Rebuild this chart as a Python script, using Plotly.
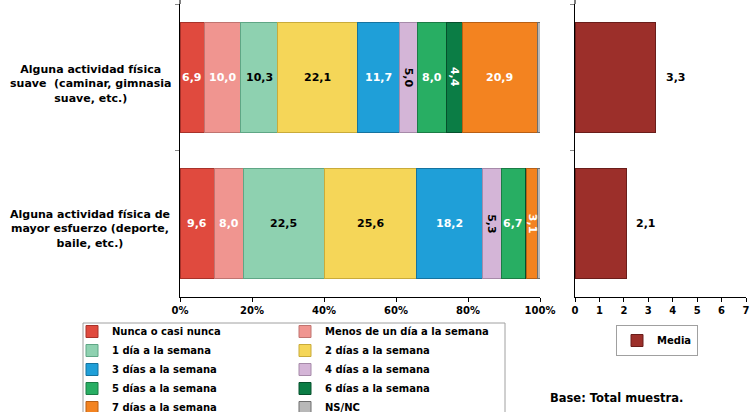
import plotly.graph_objects as go

W, H = 751, 412

# Activities (rows, top to bottom)
activities = ["suave", "esfuerzo"]
activity_labels = [
    "Alguna actividad física<br>suave  (caminar, gimnasia<br>suave, etc.)",
    "Alguna actividad física de<br>mayor esfuerzo (deporte,<br>baile, etc.)",
]

# Frequency categories (stack order, left to right)
frequencies = [
    "Nunca o casi nunca",
    "Menos de un día a la semana",
    "1 día a la semana",
    "2 días a la semana",
    "3 días a la semana",
    "4 días a la semana",
    "5 días a la semana",
    "6 días a la semana",
    "7 días a la semana",
    "NS/NC",
]

# Percentages for each activity, in the order of `frequencies`
pct_suave = [6.9, 10.0, 10.3, 22.1, 11.7, 5.0, 8.0, 4.4, 20.9, 0.7]
pct_esfuerzo = [9.6, 8.0, 22.5, 25.6, 18.2, 5.3, 6.7, 0.3, 3.1, 0.7]

# Mean number of days per week
media = [3.3, 2.1]

# x tick labels
pct_ticks = [0, 20, 40, 60, 80, 100]
media_ticks = [0, 1, 2, 3, 4, 5, 6, 7]

fills = ["#E04A3E", "#F09590", "#8ED1B0", "#F5D658", "#1F9FD8",
         "#D4B5D7", "#28AE63", "#0B7D45", "#F38320", "#B8B8B8"]
edges = ["#A8322A", "#C07470", "#5FA685", "#C9AB3A", "#15739F",
         "#A68AA9", "#1B7C45", "#06502C", "#B85F14", "#6E6E6E"]
label_colors = ["white", "white", "black", "black", "white",
                "black", "white", "white", "white", "black"]
# first column / second column of the frequency legend
legend_of = ["legend", "legend3"] * 5

MEDIA_FILL = "#9C2F2A"
MEDIA_EDGE = "#6A1D1A"


def px_x(p):
    return p / W


def px_y(p):
    return 1 - p / H


font_family = "DejaVu Sans"

fig = go.Figure()

rows = [pct_suave, pct_esfuerzo]
for i, name in enumerate(frequencies):
    fig.add_trace(go.Bar(
        name=name,
        orientation="h",
        y=activities,
        x=[rows[0][i], rows[1][i]],
        marker=dict(color=fills[i], line=dict(color=edges[i], width=1)),
        xaxis="x", yaxis="y",
        legend=legend_of[i],
        hovertemplate="%{y}: %{x:.1f}%<extra>" + name + "</extra>",
    ))

fig.add_trace(go.Bar(
    name="Media",
    orientation="h",
    y=activities,
    x=media,
    marker=dict(color=MEDIA_FILL, line=dict(color=MEDIA_EDGE, width=1)),
    xaxis="x2", yaxis="y2",
    legend="legend2",
    hovertemplate="%{y}: %{x:.1f}<extra>Media</extra>",
))

annotations = []


def fmt(v):
    return f"{v:.1f}".replace(".", ",")


# value labels inside the stacked segments
for r, act in enumerate(activities):
    cum = 0.0
    for i, v in enumerate(rows[r]):
        mid = cum + v / 2
        cum += v
        if frequencies[i] == "NS/NC" or v < 1:
            continue
        annotations.append(dict(
            x=mid, y=act, xref="x", yref="y",
            text=fmt(v), showarrow=False,
            textangle=90 if v < 6 else 0,
            font=dict(family=font_family, size=11, color=label_colors[i], weight="bold"),
        ))

# value labels beside the mean bars
for act, v in zip(activities, media):
    annotations.append(dict(
        x=v, y=act, xref="x2", yref="y2",
        text=fmt(v), showarrow=False, xanchor="left", xshift=8,
        font=dict(family=font_family, size=11, color="black", weight="bold"),
    ))

# row labels
for act, lab, dy in zip(activities, activity_labels, [-7, -5]):
    annotations.append(dict(
        x=px_x(90), y=act, xref="paper", yref="y", yshift=dy,
        text=lab, showarrow=False, xanchor="center", align="center",
        font=dict(family=font_family, size=11, color="black", weight="bold"),
    ))

annotations.append(dict(
    x=px_x(548), y=px_y(398), xref="paper", yref="paper",
    text="Base: Total muestra.", showarrow=False, xanchor="left", yanchor="middle",
    font=dict(family=font_family, size=11.5, color="black", weight="bold"),
))

axis_font = dict(family=font_family, size=10, color="black", weight="bold")
y_dom = [px_y(297), px_y(4)]

legend_common = dict(
    orientation="v",
    traceorder="normal",
    font=dict(family=font_family, size=10, color="black", weight="bold"),
    bgcolor="rgba(0,0,0,0)",
    borderwidth=0,
    xanchor="left", yanchor="top",
    itemclick=False, itemdoubleclick=False,
)

fig.update_layout(
    width=W, height=H,
    margin=dict(l=0, r=0, t=0, b=0, autoexpand=False),
    paper_bgcolor="white", plot_bgcolor="white",
    barmode="stack",
    bargap=0.25,
    font=dict(family=font_family, size=10, color="black"),
    xaxis=dict(
        domain=[px_x(180), px_x(540)], range=[0, 100],
        tickvals=pct_ticks, ticktext=[f"{t}%" for t in pct_ticks],
        showline=True, linecolor="black", linewidth=1,
        ticks="outside", ticklen=4, tickcolor="black",
        showgrid=False, zeroline=False, tickfont=axis_font, fixedrange=True,
    ),
    yaxis=dict(
        domain=y_dom, anchor="x",
        categoryorder="array", categoryarray=activities, autorange="reversed",
        showticklabels=False, showline=True, linecolor="black", linewidth=1,
        ticks="outside", ticklen=4, tickcolor="#888888", tickson="boundaries",
        showgrid=False, zeroline=False, fixedrange=True,
    ),
    xaxis2=dict(
        domain=[px_x(575), px_x(746)], range=[0, 7], anchor="y2",
        tickvals=media_ticks,
        showline=True, linecolor="black", linewidth=1,
        ticks="outside", ticklen=4, tickcolor="black",
        showgrid=False, zeroline=False, tickfont=axis_font, fixedrange=True,
    ),
    yaxis2=dict(
        domain=y_dom, anchor="x2",
        categoryorder="array", categoryarray=activities, autorange="reversed",
        showticklabels=False, showline=True, linecolor="black", linewidth=1,
        ticks="outside", ticklen=4, tickcolor="#888888", tickson="boundaries",
        showgrid=False, zeroline=False, fixedrange=True,
    ),
    legend=dict(x=px_x(72), y=px_y(317), **legend_common),
    legend3=dict(x=px_x(285), y=px_y(317), **legend_common),
    legend2=dict(
        x=px_x(616), y=px_y(325),
        orientation="v",
        font=dict(family=font_family, size=10, color="black", weight="bold"),
        bgcolor="white", bordercolor="#A0A0A0", borderwidth=1,
        xanchor="left", yanchor="top",
        itemclick=False, itemdoubleclick=False,
    ),
    annotations=annotations,
    shapes=[
        # frame round the frequency legend
        dict(
            type="rect", xref="paper", yref="paper",
            x0=px_x(83), x1=px_x(505), y0=px_y(420), y1=px_y(323),
            line=dict(color="#A0A0A0", width=1), fillcolor="rgba(0,0,0,0)", layer="below",
        ),
        # axis lines run up to the top edge
        dict(type="line", xref="paper", yref="paper",
             x0=px_x(180), x1=px_x(180), y0=px_y(4), y1=1,
             line=dict(color="black", width=1)),
        dict(type="line", xref="paper", yref="paper",
             x0=px_x(575), x1=px_x(575), y0=px_y(4), y1=1,
             line=dict(color="black", width=1)),
    ],
    showlegend=True,
)

fig.write_html("out.html")
